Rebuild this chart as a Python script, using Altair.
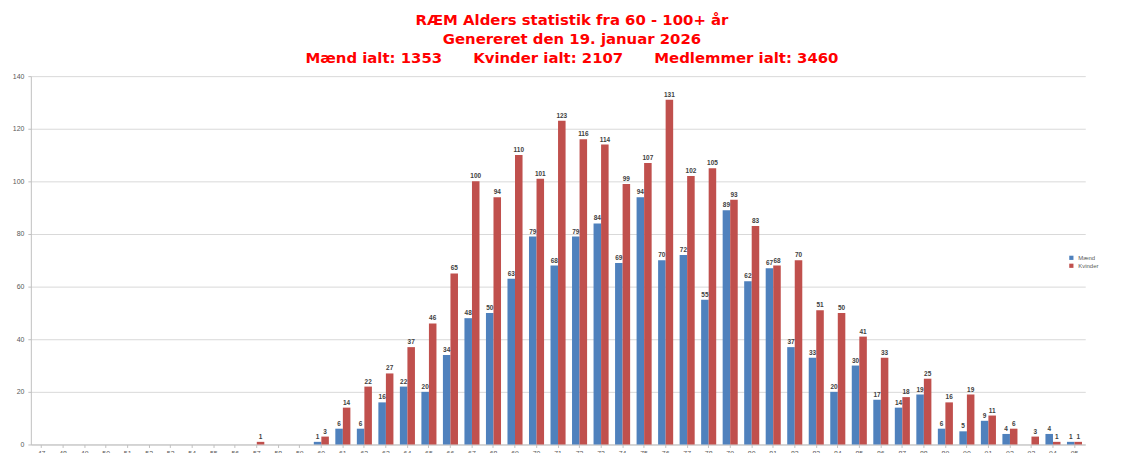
import altair as alt
import pandas as pd

ages = ["47", "48", "49", "50", "51", "52", "53", "54", "55", "56",
        "57", "58", "59", "60", "61", "62", "63", "64", "65", "66",
        "67", "68", "69", "70", "71", "72", "73", "74", "75", "76",
        "77", "78", "79", "80", "81", "82", "83", "84", "85", "86",
        "87", "88", "89", "90", "91", "92", "93", "94", "95"]

maend = [0, 0, 0, 0, 0, 0, 0, 0, 0, 0,
         0, 0, 0, 1, 6, 6, 16, 22, 20, 34,
         48, 50, 63, 79, 68, 79, 84, 69, 94, 70,
         72, 55, 89, 62, 67, 37, 33, 20, 30, 17,
         14, 19, 6, 5, 9, 4, 0, 4, 1]

kvinder = [0, 0, 0, 0, 0, 0, 0, 0, 0, 0,
           1, 0, 0, 3, 14, 22, 27, 37, 46, 65,
           100, 94, 110, 101, 123, 116, 114, 99, 107, 131,
           102, 105, 93, 83, 68, 70, 51, 50, 41, 33,
           18, 25, 16, 19, 11, 6, 3, 1, 1]

series = ["Mænd", "Kvinder"]
colors = ["#4F81BD", "#C0504D"]

gap = "\u00a0" * 6
title_lines = [
    "RÆM Alders statistik fra 60 - 100+ år",
    "Genereret den 19. januar 2026",
    "Mænd ialt: 1353" + gap + "Kvinder ialt: 2107" + gap + "Medlemmer ialt: 3460",
]

rows = []
for a, m, k in zip(ages, maend, kvinder):
    rows.append({"Alder": a, "Køn": series[0], "Antal": m})
    rows.append({"Alder": a, "Køn": series[1], "Antal": k})
df = pd.DataFrame(rows)

x = alt.X("Alder:N", sort=ages, title=None,
          scale=alt.Scale(paddingInner=0.3, paddingOuter=0.15),
          axis=alt.Axis(labelAngle=0, labelFontSize=7, labelColor="#595959",
                        tickColor="#bfbfbf", tickSize=3, domainColor="#bfbfbf",
                        labelPadding=2, grid=False))
xo = alt.XOffset("Køn:N", sort=series, scale=alt.Scale(paddingInner=0))
y = alt.Y("Antal:Q", title=None,
          scale=alt.Scale(domain=[0, 140], nice=False),
          axis=alt.Axis(values=list(range(0, 141, 20)), labelFontSize=7,
                        labelColor="#595959", gridColor="#d9d9d9",
                        domainColor="#bfbfbf", tickColor="#bfbfbf", tickSize=3,
                        labelPadding=4))

bars = alt.Chart(df).mark_bar().encode(
    x=x, xOffset=xo, y=y,
    color=alt.Color("Køn:N", sort=series, title=None,
                    scale=alt.Scale(domain=series, range=colors),
                    legend=alt.Legend(orient="none", legendX=1045, legendY=180,
                                      symbolType="square", symbolSize=18,
                                      labelFontSize=6, labelColor="#595959",
                                      rowPadding=2)),
)

labels = alt.Chart(df).transform_filter("datum.Antal > 0").mark_text(
    dy=-5, fontSize=6.5, fontWeight="bold", color="#404040"
).encode(
    x=x, xOffset=xo, y=y, text="Antal:Q"
)

chart = alt.layer(bars, labels).properties(
    width=1062, height=371,
    autosize=alt.AutoSizeParams(type="none"),
    padding={"left": 23, "top": 67, "right": 35, "bottom": 12},
    title=alt.TitleParams(text=title_lines, color="#FF0000", fontSize=15,
                          fontWeight="bold", font="DejaVu Sans",
                          anchor="middle", lineHeight=19, offset=6, dx=14),
).configure_view(stroke=None)

chart.save("out.html", embed_options={"renderer": "svg", "actions": False})
